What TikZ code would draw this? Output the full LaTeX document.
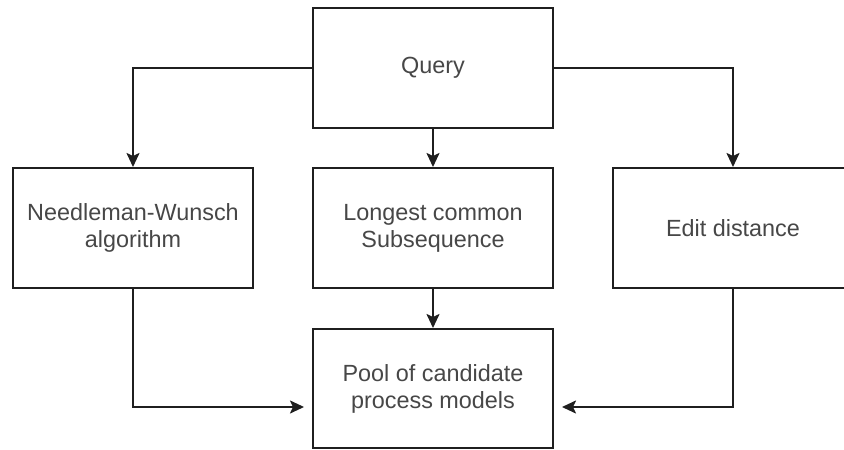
\documentclass[tikz,border=0pt]{standalone}
\usepackage{fontspec}
\setmainfont{Liberation Sans}
\usetikzlibrary{arrows.meta}
\begin{document}
\begin{tikzpicture}[x=1pt,y=-1pt,
  box/.style={draw=black!88, line width=2pt, minimum width=240pt, minimum height=120pt,
    align=center, text=black!72, font=\fontsize{23.4}{27}\selectfont, inner sep=0pt},
  conn/.style={line width=2pt, draw=black!88, -{Stealth[length=14pt,width=13pt,inset=3pt]}}]
\clip (0,0) rectangle (844,450);
\fill[white] (0,0) rectangle (844,450);
\node[box] (q) at (433,68) {Query};
\node[box] (nw) at (133,228) {Needleman-Wunsch\\algorithm};
\node[box] (lcs) at (433,228) {Longest common\\Subsequence};
\node[box] (ed) at (733,228) {Edit distance};
\node[box, minimum height=119pt] (pool) at (433,388.5) {Pool of candidate\\process models};
\draw[conn] (q.west) -| (nw.north);
\draw[conn] (q.east) -| (ed.north);
\draw[conn] (q.south) -- (lcs.north);
\draw[conn] (lcs.south) -- (pool.north);
\draw[conn, shorten >=8pt] (nw.south) |- ([yshift=-18.5pt]pool.west);
\draw[conn, shorten >=8pt] (ed.south) |- ([yshift=-18.5pt]pool.east);
\end{tikzpicture}
\end{document}
